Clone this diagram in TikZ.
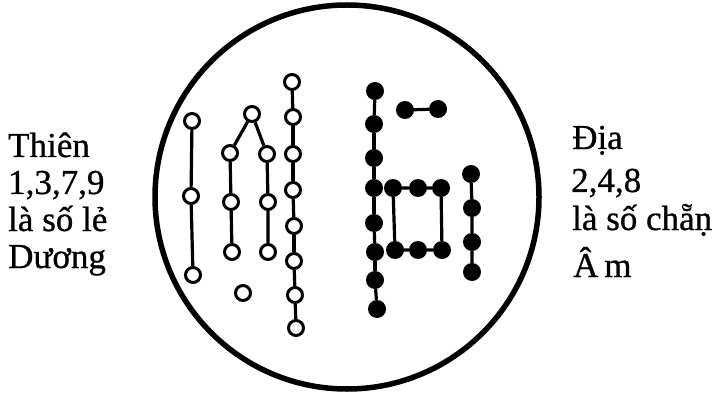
\documentclass[tikz,border=0pt]{standalone}
\usepackage{fontspec}
\setmainfont{Liberation Serif}
\usepackage{tikz}

\tikzset{
  odd/.style={circle, draw, line width=3pt, fill=white, minimum size=15pt, inner sep=0pt},
  even/.style={circle, fill=black, minimum size=18pt, inner sep=0pt},
  link/.style={line width=3.2pt},
  label/.style={anchor=base west, inner sep=0pt, font=\fontsize{35}{35}\selectfont\addfontfeature{FakeBold=0.8}}
}

\begin{document}
\begin{tikzpicture}[x=1pt,y=-1pt]
				\useasboundingbox (0,0) rectangle (727,395);
				% Circle
				\draw[line width=5.5pt] (347,197) circle (192);
				% Thien, open dots
				\node[odd] (a1) at (192,121) {};
				\node[odd] (a2) at (191,196) {};
				\node[odd] (a3) at (193,275) {};
				\node[odd] (t) at (252,114) {};
				\node[odd] (b1) at (230,153) {};
				\node[odd] (b2) at (231,202) {};
				\node[odd] (b3) at (232,252) {};
				\node[odd] (c1) at (267,154) {};
				\node[odd] (c2) at (268,202) {};
				\node[odd] (c3) at (268,252) {};
				\node[odd] (e) at (243,293) {};
				\foreach \i/\x/\y in {1/292/82,2/293/117,3/293/154,4/293/190,5/294/226,6/294/261,7/295/295,8/296/328}
					\node[odd] (d\i) at (\x,\y) {};
				% Dia, filled dots
				\foreach \i/\x/\y in {1/375/91,2/374/124,3/374/158,4/374/188,5/374/223,6/375/252,7/375/280,8/377/309}
					\node[even] (f\i) at (\x,\y) {};
				\node[even] (p1) at (405,110) {};
				\node[even] (p2) at (438,109) {};
				\node[even] (s1) at (393,188) {};
				\node[even] (s2) at (418,188) {};
				\node[even] (s3) at (441,188) {};
				\node[even] (s4) at (395,250) {};
				\node[even] (s5) at (418,250) {};
				\node[even] (s6) at (442,250) {};
				\foreach \i/\x/\y in {1/471/174,2/472/208,3/472/242,4/472/272}
					\node[even] (r\i) at (\x,\y) {};
				% Links
				\draw[link] (a1) -- (a2) -- (a3);
				\draw[link] (b1) -- (t) -- (c1);
				\draw[link] (b1) -- (b2) -- (b3);
				\draw[link] (c1) -- (c2) -- (c3);
				\foreach \i [count=\j from 2] in {1,...,7}
					\draw[link] (d\i) -- (d\j);
				\foreach \i [count=\j from 2] in {1,...,7}
					\draw[link] (f\i) -- (f\j);
				\draw[link] (p1) -- (p2);
				\draw[link] (s1) -- (s2) -- (s3) -- (s6) -- (s5) -- (s4) -- (s1);
				\draw[link] (r1) -- (r2) -- (r3) -- (r4);
				% Labels
				\node[label] (l1) at (8,157) {Thiên};
				\node[label] (l2) at (8,194) {1,3,7,9};
				\node[label] (l3) at (8,231) {là số lẻ};
				\node[label] (l4) at (8,268) {Dương};
				\node[label] (r5) at (572,149) {Địa};
				\node[label] (r6) at (571,192) {2,4,8};
				\node[label] (r7) at (572,230) {là số chẵṇ};
				\node[label] (r8) at (573,277) {Â\,m};
\end{tikzpicture}
\end{document}
